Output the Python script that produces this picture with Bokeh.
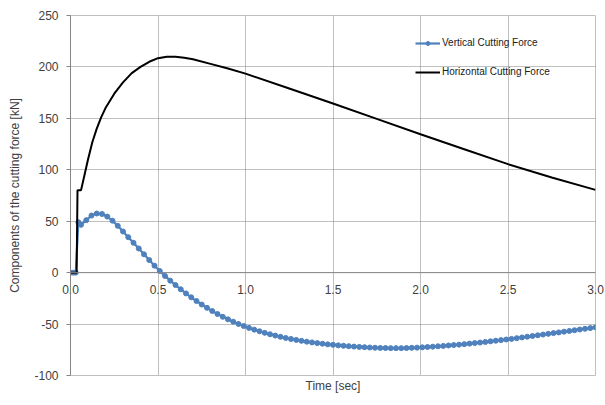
from bokeh.plotting import figure
from bokeh.models import (Legend, LegendItem, FixedTicker, NumeralTickFormatter,
                          ColumnDataSource, Span)
from bokeh.embed import file_html
from bokeh.resources import INLINE

# ---- data ----
t_vert = [0.0, 0.015, 0.03, 0.045, 0.06, 0.09, 0.12, 0.15, 0.18, 0.21, 0.24, 0.27, 0.30, 0.33, 0.36, 0.39,
          0.42, 0.45, 0.48, 0.51, 0.54, 0.57, 0.60, 0.63, 0.66, 0.69, 0.72, 0.75, 0.78, 0.81, 0.84, 0.87,
          0.90, 0.93, 0.96, 0.99, 1.02, 1.05, 1.08, 1.11, 1.14, 1.17, 1.20, 1.23, 1.26, 1.29, 1.32, 1.35,
          1.38, 1.41, 1.44, 1.47, 1.50, 1.53, 1.56, 1.59, 1.62, 1.65, 1.68, 1.71, 1.74, 1.77, 1.80, 1.83,
          1.86, 1.89, 1.92, 1.95, 1.98, 2.01, 2.04, 2.07, 2.10, 2.13, 2.16, 2.19, 2.22, 2.25, 2.28, 2.31,
          2.34, 2.37, 2.40, 2.43, 2.46, 2.49, 2.52, 2.55, 2.58, 2.61, 2.64, 2.67, 2.70, 2.73, 2.76, 2.79,
          2.82, 2.85, 2.88, 2.91, 2.94, 2.97, 3.00]
vertical_force = [0, 0, 0, 49, 46.5, 51, 55.5, 57.5, 57, 54.5, 50.5, 45.5, 40, 34.5, 29, 23.5,
                  17.8, 12.2, 6.8, 1.6, -3.2, -7.8, -12.1, -16.2, -20.2, -24.0, -27.6, -31.0, -34.2, -37.3, -40.2, -42.9,
                  -45.4, -47.7, -49.9, -51.9, -53.7, -55.4, -57.0, -58.5, -59.9, -61.2, -62.4, -63.5, -64.5, -65.4, -66.3, -67.1,
                  -67.8, -68.5, -69.1, -69.7, -70.2, -70.7, -71.1, -71.5, -71.9, -72.2, -72.5, -72.8, -73.0, -73.2, -73.3, -73.4,
                  -73.4, -73.4, -73.3, -73.1, -72.9, -72.6, -72.3, -72.0, -71.6, -71.2, -70.8, -70.4, -70.0, -69.5, -69.0, -68.5,
                  -68.0, -67.4, -66.8, -66.2, -65.6, -65.0, -64.4, -63.7, -63.0, -62.3, -61.6, -60.9, -60.2, -59.5, -58.8, -58.1,
                  -57.4, -56.7, -56.0, -55.3, -54.6, -53.9, -53.2]

t_horiz = [0.0, 0.035, 0.04, 0.06, 0.08, 0.10, 0.125, 0.15, 0.175, 0.20, 0.25, 0.30, 0.35, 0.40, 0.45, 0.50,
           0.55, 0.60, 0.65, 0.70, 0.80, 0.90, 1.00, 1.25, 1.50, 1.75, 2.00, 2.25, 2.50, 2.75, 3.00]
horizontal_force = [0, 0, 80, 80, 95, 110, 127, 140, 151, 160, 174, 185, 194, 200, 205, 208.5,
                    210, 210, 209, 207.5, 203, 198.5, 193.5, 179, 164.5, 149.5, 134.5, 120, 105.5, 92.5, 80.5]

x_ticks = [0.0, 0.5, 1.0, 1.5, 2.0, 2.5, 3.0]
y_ticks = [-100, -50, 0, 50, 100, 150, 200, 250]

FONT = "Liberation Sans"
BLUE = "#4F81BD"
TXT = "#404040"
AXIS = "#868686"

p = figure(width=605, height=405, x_range=(0, 3), y_range=(-100, 250),
           output_backend="svg", toolbar_location=None,
           min_border_left=70, min_border_right=10, min_border_top=15, min_border_bottom=30)
p.background_fill_color = "white"
p.border_fill_color = "white"
p.outline_line_color = "#BFBFBF"
p.outline_line_width = 1

# grids
p.xgrid.ticker = FixedTicker(ticks=x_ticks)
p.ygrid.ticker = FixedTicker(ticks=y_ticks)
for g in (p.xgrid, p.ygrid):
    g.grid_line_color = "#808080"
    g.grid_line_dash = "1 1"
    g.grid_line_width = 1

# y axis
ya = p.yaxis[0]
ya.ticker = FixedTicker(ticks=y_ticks)
ya.formatter = NumeralTickFormatter(format="0")
ya.axis_label = "Components of the cutting force [kN]"
ya.axis_label_text_font = FONT
ya.axis_label_text_font_size = "12px"
ya.axis_label_text_font_style = "normal"
ya.axis_label_text_color = TXT
ya.axis_label_standoff = 9
ya.major_label_text_font = FONT
ya.major_label_text_font_size = "12px"
ya.major_label_text_color = TXT
ya.major_label_standoff = 8
ya.axis_line_color = AXIS
ya.major_tick_line_color = AXIS
ya.major_tick_out = 4
ya.major_tick_in = 0
ya.minor_tick_line_color = None

# x axis: tick labels lifted up to sit just under the y = 0 line
p.add_layout(Span(location=0, dimension="width", line_color=AXIS, line_width=1))
xa = p.xaxis[0]
xa.ticker = FixedTicker(ticks=x_ticks)
xa.formatter = NumeralTickFormatter(format="0.0")
xa.major_label_standoff = -91
xa.major_label_text_font = FONT
xa.major_label_text_font_size = "12px"
xa.major_label_text_color = TXT
xa.major_tick_out = 0
xa.major_tick_in = 0
xa.minor_tick_line_color = None
xa.axis_line_color = "#BFBFBF"
xa.axis_label = "Time [sec]"
xa.axis_label_text_font = FONT
xa.axis_label_text_font_size = "12px"
xa.axis_label_text_font_style = "normal"
xa.axis_label_text_color = TXT
xa.axis_label_standoff = 82

# series
hsrc = ColumnDataSource(dict(t=t_horiz, f=horizontal_force))
vsrc = ColumnDataSource(dict(t=t_vert, f=vertical_force))
vline = p.line("t", "f", source=vsrc, line_color=BLUE, line_width=2.2)
vscat = p.scatter("t", "f", source=vsrc, marker="circle", size=5, fill_color=BLUE, line_color=BLUE)
hline = p.line("t", "f", source=hsrc, line_color="black", line_width=2)

legend = Legend(items=[LegendItem(label="Vertical Cutting Force", renderers=[vline, vscat]),
                       LegendItem(label="Horizontal Cutting Force", renderers=[hline])],
                location=(345, 298), orientation="vertical",
                label_text_font=FONT, label_text_font_size="10px", label_text_color="#202020",
                glyph_width=25, glyph_height=10, label_height=10, label_standoff=2,
                spacing=18, padding=0, margin=0,
                background_fill_alpha=0, border_line_alpha=0)
p.add_layout(legend)

open("out.html", "w").write(file_html(p, INLINE))
